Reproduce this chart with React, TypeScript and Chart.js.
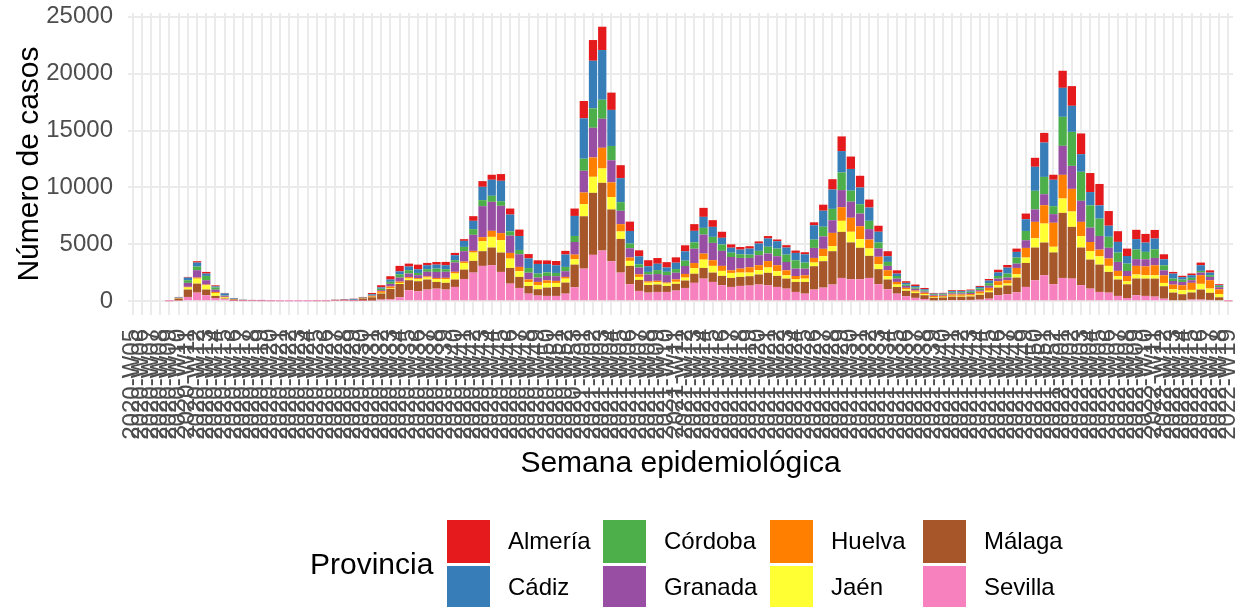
import { useEffect, useRef } from "react";
import { Chart, registerables } from "chart.js";

Chart.register(...registerables);

const FONT = '"Liberation Sans", Arial, sans-serif';

const weeks2020 = [
  "2020-W05", "2020-W06", "2020-W07", "2020-W08", "2020-W09", "2020-W10", "2020-W11", "2020-W12", "2020-W13", "2020-W14",
  "2020-W15", "2020-W16", "2020-W17", "2020-W18", "2020-W19", "2020-W20", "2020-W21", "2020-W22", "2020-W23", "2020-W24",
  "2020-W25", "2020-W26", "2020-W27", "2020-W28", "2020-W29", "2020-W30", "2020-W31", "2020-W32", "2020-W33", "2020-W34",
  "2020-W35", "2020-W36", "2020-W37", "2020-W38", "2020-W39", "2020-W40", "2020-W41", "2020-W42", "2020-W43", "2020-W44",
  "2020-W45", "2020-W46", "2020-W47", "2020-W48", "2020-W49", "2020-W50", "2020-W51", "2020-W52", "2020-W53",
];
const weeks2021 = [
  "2021-W01", "2021-W02", "2021-W03", "2021-W04", "2021-W05", "2021-W06", "2021-W07", "2021-W08", "2021-W09", "2021-W10",
  "2021-W11", "2021-W12", "2021-W13", "2021-W14", "2021-W15", "2021-W16", "2021-W17", "2021-W18", "2021-W19", "2021-W20",
  "2021-W21", "2021-W22", "2021-W23", "2021-W24", "2021-W25", "2021-W26", "2021-W27", "2021-W28", "2021-W29", "2021-W30",
  "2021-W31", "2021-W32", "2021-W33", "2021-W34", "2021-W35", "2021-W36", "2021-W37", "2021-W38", "2021-W39", "2021-W40",
  "2021-W41", "2021-W42", "2021-W43", "2021-W44", "2021-W45", "2021-W46", "2021-W47", "2021-W48", "2021-W49", "2021-W50",
  "2021-W51", "2021-W52",
];
const weeks2022 = [
  "2022-W01", "2022-W02", "2022-W03", "2022-W04", "2022-W05", "2022-W06", "2022-W07", "2022-W08", "2022-W09", "2022-W10",
  "2022-W11", "2022-W12", "2022-W13", "2022-W14", "2022-W15", "2022-W16", "2022-W17", "2022-W18", "2022-W19",
];
const weeks = [...weeks2020, ...weeks2021, ...weeks2022];

const provinces = ["Almería", "Cádiz", "Córdoba", "Granada", "Huelva", "Jaén", "Málaga", "Sevilla"];
const provinceColors = ["#E41A1C", "#377EB8", "#4DAF4A", "#984EA3", "#FF7F00", "#FFFF33", "#A65628", "#F781BF"];

const sevilla = [
  0, 0, 0, 0, 10, 60, 380, 760, 530, 290,
  180, 30, 20, 20, 15, 10, 5, 4, 3, 4,
  10, 10, 30, 30, 20, 30, 60, 150, 180, 350,
  970, 880, 1030, 1110, 1030, 1260, 1960, 2520, 3110, 3170,
  2580, 1550, 1170, 670, 500, 470, 470, 670, 1230, 2870,
  4080, 4460, 3520, 2520, 1500, 910, 760, 820, 820, 940,
  1170, 1620, 1990, 1700, 1410, 1260, 1350, 1380, 1470, 1410,
  1260, 1110, 820, 670, 1030, 1200, 1470, 2050, 1940, 1940,
  2050, 1500, 1060, 670, 440, 300, 200, 80, 90, 110,
  110, 120, 150, 230, 530, 620, 790, 1260, 1850, 2290,
  1500, 2050, 1990, 1410, 1110, 820, 760, 470, 290, 530,
  470, 410, 230, 90, 90, 150, 150, 120, 90, 5,
];
const malaga = [
  0, 0, 0, 0, 10, 180, 650, 790, 500, 180,
  60, 130, 60, 30, 25, 10, 5, 4, 3, 4,
  10, 10, 40, 40, 60, 200, 290, 530, 910, 1170,
  880, 880, 880, 590, 590, 650, 820, 1030, 1290, 1550,
  1700, 1380, 970, 670, 560, 730, 790, 970, 1990, 4600,
  5450, 5950, 4550, 2960, 1610, 970, 670, 650, 530, 590,
  650, 800, 940, 820, 820, 790, 790, 820, 880, 1090,
  970, 880, 880, 1030, 2050, 2320, 2930, 4050, 3230, 2760,
  1940, 1320, 850, 590, 480, 420, 330, 230, 240, 300,
  290, 300, 420, 560, 670, 760, 1290, 2110, 2870, 2870,
  2790, 5720, 4550, 3310, 2550, 2400, 1820, 1440, 1200, 1470,
  1520, 1580, 1090, 670, 530, 620, 880, 620, 260, 10,
];
const jaen = [
  0, 0, 0, 0, 0, 30, 180, 440, 380, 260,
  90, 20, 10, 5, 5, 5, 2, 2, 2, 2,
  5, 5, 10, 20, 10, 10, 30, 60, 60, 90,
  150, 180, 180, 230, 320, 530, 590, 730, 880, 940,
  1090, 820, 500, 350, 350, 410, 350, 350, 470, 1060,
  1410, 1260, 1090, 650, 440, 260, 210, 210, 210, 180,
  260, 500, 730, 590, 440, 440, 380, 320, 380, 470,
  410, 290, 230, 290, 320, 440, 440, 970, 940, 760,
  650, 440, 290, 210, 130, 120, 100, 60, 60, 70,
  80, 80, 100, 130, 210, 180, 290, 470, 820, 1670,
  500, 1260, 1350, 1000, 760, 730, 530, 290, 260, 350,
  290, 290, 290, 290, 350, 230, 500, 380, 290, 5,
];
const huelva = [
  0, 0, 0, 0, 5, 20, 60, 90, 60, 90,
  60, 20, 20, 10, 10, 5, 3, 2, 2, 2,
  5, 5, 10, 10, 10, 20, 60, 150, 150, 120,
  120, 90, 90, 120, 120, 150, 120, 150, 350, 530,
  620, 500, 380, 230, 290, 230, 180, 150, 410, 1030,
  1700, 1820, 1290, 650, 290, 230, 120, 120, 90, 210,
  320, 440, 530, 500, 440, 230, 350, 470, 440, 560,
  530, 440, 290, 290, 410, 650, 1170, 1200, 1230, 1140,
  790, 650, 530, 230, 130, 110, 120, 100, 90, 120,
  120, 130, 180, 260, 350, 290, 560, 850, 1440, 1610,
  2110, 2080, 1990, 1260, 790, 590, 650, 470, 470, 760,
  790, 880, 670, 410, 440, 620, 760, 730, 410, 5,
];
const granada = [
  0, 0, 0, 0, 5, 30, 350, 650, 380, 200,
  90, 20, 10, 20, 20, 20, 5, 4, 3, 4,
  20, 20, 20, 30, 20, 20, 60, 90, 230, 350,
  320, 260, 410, 530, 530, 820, 910, 1410, 2730, 2550,
  2400, 1520, 1110, 590, 380, 380, 410, 500, 1110, 1910,
  2610, 2550, 1940, 1170, 820, 590, 590, 590, 650, 590,
  700, 1260, 1670, 1520, 1320, 1170, 940, 820, 880, 670,
  790, 730, 650, 590, 880, 1090, 1110, 1500, 1410, 1110,
  910, 730, 380, 290, 170, 150, 110, 70, 70, 100,
  100, 100, 130, 180, 230, 230, 380, 670, 1090, 970,
  760, 2550, 2020, 1850, 1260, 1200, 940, 790, 440, 590,
  620, 650, 440, 320, 290, 230, 230, 290, 180, 3,
];
const cordoba = [
  0, 0, 0, 0, 0, 20, 230, 320, 380, 200,
  30, 10, 10, 5, 10, 3, 2, 2, 1, 2,
  3, 3, 10, 10, 10, 30, 60, 120, 180, 290,
  290, 200, 230, 290, 230, 200, 380, 500, 530, 530,
  410, 380, 380, 410, 350, 320, 290, 380, 530, 1060,
  1700, 1670, 1260, 760, 410, 290, 230, 350, 290, 320,
  470, 560, 590, 530, 560, 380, 320, 290, 380, 590,
  670, 650, 730, 530, 730, 850, 1000, 1550, 970, 820,
  730, 530, 350, 230, 120, 110, 90, 60, 60, 90,
  90, 110, 140, 230, 230, 350, 530, 820, 1640, 1520,
  700, 2550, 2990, 2550, 1960, 1520, 970, 820, 650, 850,
  650, 760, 440, 210, 210, 210, 150, 150, 120, 3,
];
const cadiz = [
  0, 0, 0, 0, 5, 30, 230, 350, 200, 90,
  180, 60, 15, 25, 30, 5, 2, 1, 1, 1,
  5, 5, 10, 20, 80, 20, 60, 120, 200, 260,
  320, 320, 350, 350, 350, 440, 530, 730, 1170, 1410,
  1790, 1470, 1230, 850, 850, 730, 670, 1090, 1760, 3550,
  4190, 4370, 3170, 2110, 1110, 700, 500, 560, 380, 560,
  820, 1010, 970, 880, 590, 440, 410, 530, 650, 730,
  650, 620, 650, 730, 1260, 1410, 1700, 1880, 1910, 1470,
  1170, 940, 500, 210, 150, 130, 110, 70, 70, 100,
  100, 110, 140, 230, 320, 530, 500, 1030, 2110, 3020,
  2320, 2550, 2290, 1550, 1170, 1170, 970, 940, 670, 910,
  820, 940, 530, 440, 210, 230, 500, 230, 60, 3,
];
const almeria = [
  0, 0, 0, 0, 5, 10, 60, 120, 150, 90,
  40, 0, 5, 5, 5, 2, 1, 1, 0, 1,
  2, 2, 20, 40, 20, 50, 110, 190, 290, 480,
  260, 410, 200, 230, 290, 200, 150, 410, 500, 440,
  590, 530, 560, 380, 320, 320, 380, 320, 650, 1520,
  1820, 2050, 1520, 1140, 820, 530, 530, 500, 470, 470,
  530, 590, 790, 590, 530, 290, 230, 210, 180, 210,
  150, 210, 210, 180, 260, 530, 910, 1290, 1090, 1030,
  700, 530, 440, 290, 140, 130, 110, 60, 60, 80,
  80, 80, 90, 140, 230, 230, 290, 500, 790, 850,
  440, 1500, 1730, 1820, 1670, 1880, 1290, 940, 650, 820,
  760, 760, 440, 150, 120, 150, 230, 200, 90, 2,
];

// same order as `provinces`
const provinceSeries = [almeria, cadiz, cordoba, granada, huelva, jaen, malaga, sevilla];

const yTickValues = [0, 2500, 5000, 7500, 10000, 12500, 15000, 17500, 20000, 22500, 25000];

const legendTitle = "Provincia";
const xTitle = "Semana epidemiológica";
const yTitle = "Número de casos";

const legendPlugin = {
  id: "ggLegend",
  afterDraw(chart: any) {
    const ctx = chart.ctx as CanvasRenderingContext2D;
    ctx.save();
    ctx.textBaseline = "middle";
    ctx.textAlign = "left";
    ctx.fillStyle = "#000000";
    ctx.font = `30px ${FONT}`;
    ctx.fillText(legendTitle, 310, 566);
    const colX = [447, 603, 770, 923];
    const rowY = [520, 566];
    const key = 43;
    provinces.forEach((name, k) => {
      const ds = chart.data.datasets.find((d: any) => d.label === name);
      if (!ds) return;
      const x = colX[Math.floor(k / 2)];
      const y = rowY[k % 2];
      ctx.fillStyle = ds.backgroundColor;
      ctx.fillRect(x, y, key, key);
      ctx.fillStyle = "#000000";
      ctx.font = `24px ${FONT}`;
      ctx.fillText(name, x + 61, y + key / 2 + 1);
    });
    ctx.restore();
  },
};

export default function App() {
  const canvasRef = useRef<HTMLCanvasElement | null>(null);

  useEffect(() => {
    const canvas = canvasRef.current;
    if (!canvas) return;

    const totals = weeks.map((_, i) => provinceSeries.reduce((s, arr) => s + arr[i], 0));
    const maxTotal = Math.max(...totals);

    // stack bottom -> top: Sevilla ... Almería
    const datasets = provinces
      .map((name, k) => ({
        label: name,
        data: provinceSeries[k],
        backgroundColor: provinceColors[k],
        borderWidth: 0,
        barPercentage: 0.9,
        categoryPercentage: 1.0,
      }))
      .reverse();

    const chart = new Chart(canvas, {
      type: "bar",
      data: { labels: weeks, datasets },
      plugins: [legendPlugin],
      options: {
        responsive: false,
        animation: false,
        devicePixelRatio: 1,
        layout: { padding: { left: 0, right: 15, top: 13, bottom: 125 } },
        plugins: {
          legend: { display: false },
          tooltip: { enabled: false },
          title: { display: false },
        },
        scales: {
          x: {
            stacked: true,
            offset: true,
            border: { display: false },
            grid: { color: "#EBEBEB", lineWidth: 2, offset: false, drawTicks: false },
            ticks: {
              autoSkip: false,
              maxRotation: 90,
              minRotation: 90,
              padding: 14,
              color: "#4D4D4D",
              font: { family: FONT, size: 24 },
            },
            title: {
              display: true,
              text: xTitle,
              color: "#000000",
              font: { family: FONT, size: 30 },
              padding: { top: 0, bottom: 0 },
            },
            afterFit: (scale: any) => {
              scale.height = 167;
              scale.paddingLeft = 0;
              scale.paddingRight = 0;
            },
          },
          y: {
            stacked: true,
            min: -0.05 * maxTotal,
            max: 1.05 * maxTotal,
            border: { display: false },
            grid: {
              color: "#EBEBEB",
              drawTicks: false,
              lineWidth: (ctx: any) => (ctx.tick && ctx.tick.value % 5000 === 0 ? 2 : 1.2),
            },
            afterBuildTicks: (scale: any) => {
              scale.ticks = yTickValues.map((v) => ({ value: v }));
            },
            ticks: {
              padding: 15,
              color: "#4D4D4D",
              font: { family: FONT, size: 24 },
              callback: (value: any) => (Number(value) % 5000 === 0 ? String(value) : ""),
            },
            title: {
              display: true,
              text: yTitle,
              color: "#000000",
              font: { family: FONT, size: 30 },
              padding: { top: 12, bottom: 0 },
            },
            afterFit: (scale: any) => {
              scale.width = 128;
              scale.paddingTop = 0;
              scale.paddingBottom = 0;
            },
          },
        },
      },
    } as any);

    return () => chart.destroy();
  }, []);

  return (
    <div style={{ position: "fixed", left: 0, top: 0, width: 1248, height: 607, background: "#ffffff" }}>
      <canvas ref={canvasRef} width={1248} height={607} style={{ display: "block", width: 1248, height: 607 }} />
    </div>
  );
}
